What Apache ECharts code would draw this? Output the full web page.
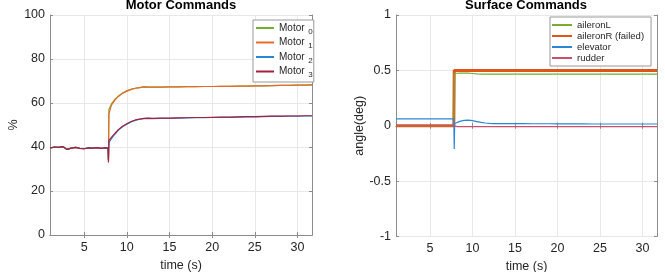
<!DOCTYPE html>
<html><head><meta charset="utf-8">
<script src="https://cdn.jsdelivr.net/npm/echarts@6/dist/echarts.min.js"></script>
<style>html,body{margin:0;padding:0;background:#fff}#c{width:665px;height:272px}</style>
</head><body><div id="c"></div>
<script>
// time stamps (s)
const time = [1,1.5,2,2.5,3,3.5,4,4.5,5,5.5,6,6.5,7,7.5,7.8,7.85,7.9,8.2,8.6,9,9.5,10,10.5,11,11.5,12,12.5,13,14,15,16,17,18,19,20,21,22,23,24,25,26,27,28,29,30,31,31.7];
// motor commands (%)
const motorNames = ['Motor 0','Motor 1','Motor 2','Motor 3'];
const motor0 = [39.5,40,39.8,40.2,38.9,39.5,39.8,39.4,39.2,39.6,39.5,39.7,39.4,39.6,39.5,34,57,59.6,61.6,63.1,64.5,65.5,66.2,66.7,67,67.3,67.2,67.2,67.2,67.3,67.3,67.4,67.4,67.5,67.5,67.6,67.6,67.7,67.7,67.8,67.8,67.9,68,68,68.1,68.1,68.2];
const motor1 = [39.5,40,39.8,40.2,38.9,39.5,39.8,39.4,39.2,39.6,39.5,39.7,39.4,39.6,39.5,34,55,59,61.3,63,64.4,65.4,66.2,66.7,67,67.3,67.2,67.2,67.2,67.3,67.3,67.4,67.4,67.5,67.5,67.6,67.6,67.7,67.7,67.8,67.8,67.9,68,68,68.1,68.1,68.2];
const motor2 = [39.5,40,39.8,40.2,38.9,39.5,39.8,39.4,39.2,39.6,39.5,39.7,39.4,39.6,39.5,34,42,43.8,45.8,47.6,49.2,50.4,51.4,52.1,52.6,52.9,53,52.9,53,53,53.1,53.2,53.3,53.3,53.4,53.5,53.5,53.6,53.7,53.7,53.8,53.9,53.9,54,54,54.1,54.1];
const motor3 = [39.5,40,39.8,40.2,38.9,39.5,39.8,39.4,39.2,39.6,39.5,39.7,39.4,39.6,39.5,33,43,44.4,46.2,47.9,49.4,50.6,51.6,52.3,52.7,53,53.1,53,53.1,53.1,53.2,53.3,53.4,53.4,53.5,53.6,53.6,53.7,53.8,53.8,53.9,54,54,54.1,54.1,54.2,54.2];
// surface commands (deg)
const surfaceNames = ['aileronL','aileronR (failed)','elevator','rudder'];
const aileronL = [0,0,0,0,0,0,0,0,0,0,0,0,0,0,0,0.47,0.472,0.474,0.476,0.476,0.475,0.472,0.469,0.467,0.466,0.466,0.466,0.466,0.466,0.466,0.466,0.466,0.466,0.466,0.466,0.466,0.466,0.466,0.466,0.466,0.466,0.466,0.466,0.466,0.466,0.466,0.466];
const aileronR = [0,0,0,0,0,0,0,0,0,0,0,0,0,0,0,0.5,0.5,0.5,0.5,0.5,0.5,0.5,0.5,0.5,0.5,0.5,0.5,0.5,0.5,0.5,0.5,0.5,0.5,0.5,0.5,0.5,0.5,0.5,0.5,0.5,0.5,0.5,0.5,0.5,0.5,0.5,0.5];
const elevator = [0.062,0.062,0.062,0.062,0.062,0.062,0.062,0.062,0.062,0.062,0.062,0.062,0.062,0.062,0.062,-0.21,0.02,0.03,0.042,0.048,0.05,0.046,0.038,0.03,0.025,0.022,0.02,0.02,0.02,0.019,0.019,0.018,0.018,0.018,0.017,0.017,0.017,0.017,0.016,0.016,0.016,0.016,0.016,0.016,0.016,0.016,0.016];
const rudder = [0,0,0,0,0,0,0,0,0,0,0,0,0,0,0,-0.015,-0.008,-0.008,-0.008,-0.008,-0.008,-0.008,-0.008,-0.008,-0.008,-0.008,-0.008,-0.008,-0.008,-0.008,-0.008,-0.008,-0.008,-0.008,-0.008,-0.008,-0.008,-0.008,-0.008,-0.008,-0.008,-0.008,-0.008,-0.008,-0.008,-0.008,-0.008];
const xTicks = [5,10,15,20,25,30];

const pair = arr => arr.map((v,i)=>[time[i],v]);
const FONT = 'Liberation Sans';
const TXT = '#262626';
const BOX = '#8c8c8c';
const GRIDC = '#e8e8e8';

function xAx(gi, pos, main) {
  return {
    type:'value', gridIndex:gi, position:pos, min:1, max:31.7,
    axisLine:{show:true, lineStyle:{color:BOX, width:1}},
    axisTick:{show:true, inside:true, length:3, customValues:xTicks, lineStyle:{color:BOX}},
    axisLabel:{show:main, customValues:xTicks, color:TXT, fontSize:12.5, fontFamily:FONT, margin:6},
    splitLine:{show:main, lineStyle:{color:GRIDC, width:1}},
    name: main ? 'time (s)' : '', nameLocation:'middle', nameGap:20,
    nameTextStyle:{color:TXT, fontSize:12.5, fontFamily:FONT}
  };
}
function yAx(gi, pos, main, mn, mx, iv, nm) {
  return {
    type:'value', gridIndex:gi, position:pos, min:mn, max:mx, interval:iv,
    axisLine:{show:true, lineStyle:{color:BOX, width:1}},
    axisTick:{show:true, inside:true, length:3, lineStyle:{color:BOX}},
    axisLabel:{show:main, color:TXT, fontSize:12.5, fontFamily:FONT, margin:5},
    splitLine:{show:main, lineStyle:{color:GRIDC, width:1}},
    name: main ? nm : '', nameLocation:'middle', nameGap:30,
    nameTextStyle:{color:TXT, fontSize:12.5, fontFamily:FONT}
  };
}
const motorColors = ['#77AC30','#E8692A','#2B86D6','#A8203C'];
const surfColors = ['#77AC30','#E0541A','#2B86D6','#C8506A'];

const series = [];
[motor0,motor1,motor2,motor3].forEach((d,i)=>series.push({
  type:'line', name:motorNames[i], xAxisIndex:0, yAxisIndex:0, data:pair(d),
  symbol:'none', lineStyle:{width:1.2, color:motorColors[i]}, itemStyle:{color:motorColors[i]}, animation:false
}));
[aileronL,aileronR,elevator,rudder].forEach((d,i)=>series.push({
  type:'line', name:surfaceNames[i], xAxisIndex:2, yAxisIndex:2, data:pair(d),
  symbol:'none', z: i===1 ? 1 : 2,
  lineStyle:{width: i===1 ? 3 : 1.2, color:surfColors[i]}, itemStyle:{color:surfColors[i]}, animation:false
}));

const hiddenSym = {color:'rgba(0,0,0,0)', borderWidth:0, opacity:0};
const chart = echarts.init(document.getElementById('c'), null, {renderer:'canvas'});
chart.setOption({
  backgroundColor:'#fff',
  animation:false,
  title:[
    {text:'Motor Commands', left:181, textAlign:'center', top:-1, padding:0,
     textStyle:{fontFamily:FONT, fontSize:13, fontWeight:'bold', color:'#000'}},
    {text:'Surface Commands', left:526, textAlign:'center', top:-1, padding:0,
     textStyle:{fontFamily:FONT, fontSize:13, fontWeight:'bold', color:'#000'}}
  ],
  grid:[
    {left:50, right:353, top:15, bottom:37, outerBoundsMode:'none', containLabel:false},
    {left:396, right:8, top:15, bottom:35.5, outerBoundsMode:'none', containLabel:false}
  ],
  xAxis:[xAx(0,'bottom',true), xAx(0,'top',false), xAx(1,'bottom',true), xAx(1,'top',false)],
  yAxis:[yAx(0,'left',true,0,100,20,'%'), yAx(0,'right',false,0,100,20,''),
         yAx(1,'left',true,-1,1,0.5,'angle(deg)'), yAx(1,'right',false,-1,1,0.5,'')],
  legend:[
    {data:motorNames, orient:'vertical', left:253, top:20, itemWidth:18, itemHeight:8, itemGap:2,
     padding:[3,1,3,2], backgroundColor:'#fff', borderColor:'#999', borderWidth:1, borderRadius:0,
     itemStyle:hiddenSym,
     formatter: n => 'Motor {s|' + n.split(' ')[1] + '}',
     textStyle:{fontFamily:FONT, fontSize:10, color:TXT,
       rich:{s:{fontSize:8, fontFamily:FONT, color:TXT, padding:[7,0,0,1]}}}},
    {data:surfaceNames, orient:'vertical', left:550, top:17, itemWidth:20, itemHeight:8, itemGap:1,
     padding:[3,7,3,1], backgroundColor:'#fff', borderColor:'#999', borderWidth:1, borderRadius:0,
     itemStyle:hiddenSym,
     textStyle:{fontFamily:FONT, fontSize:9.5, color:TXT}}
  ],
  series: series
});
</script></body></html>
